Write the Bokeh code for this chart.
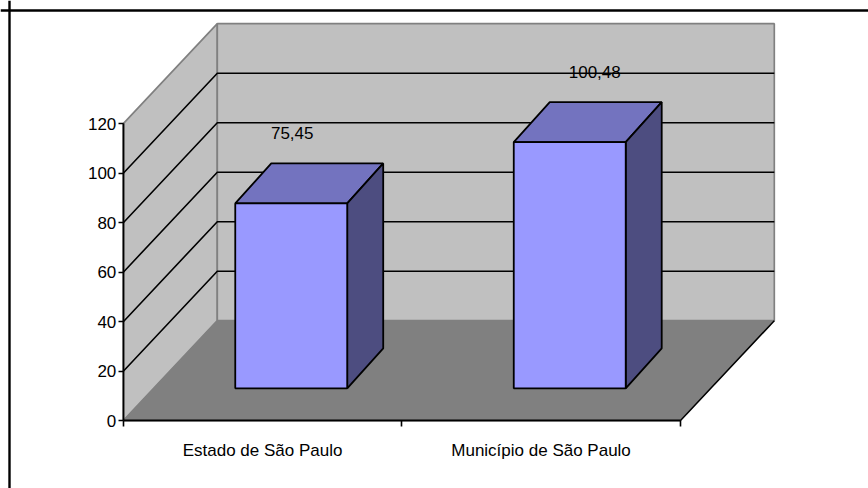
from bokeh.core.properties import value
from bokeh.embed import file_html
from bokeh.models import FixedTicker, LinearAxis, Range1d, Span
from bokeh.plotting import figure
from bokeh.resources import INLINE

categories = ["Estado de São Paulo", "Município de São Paulo"]
values = [75.45, 100.48]
value_labels = ["75,45", "100,48"]
y_ticks = [0, 20, 40, 60, 80, 100, 120]
grid_levels = [20, 40, 60, 80, 100]

WIDTH, HEIGHT = 868, 488
FONT = "Liberation Sans"
FONT_SIZE = "17px"

# Pixel placement of the chart's origin and its scales
ORIGIN_X, ORIGIN_Y = 122.8, 420.2
PX_PER_CATEGORY = 278.5
PX_PER_UNIT = 2.475

# Oblique projection: how far the back wall sits from the front plane, in data units
WALL_DX = 94 / PX_PER_CATEGORY
WALL_DY = 100 / PX_PER_UNIT
TOP = 120

# Bar box geometry in data units
BAR_WIDTH = 0.402
BAR_SHIFT_X = 0.103
BAR_SHIFT_Y = 13.1
BAR_DEPTH_X = 36 / PX_PER_CATEGORY
BAR_DEPTH_Y = 40 / PX_PER_UNIT
BAR_SCALE = 0.99

# Label placement relative to the bar's top back edge
LABEL_X_OFFSET = [1, 25]
LABEL_Y_OFFSET = -30

p = figure(
    width=WIDTH,
    height=HEIGHT,
    output_backend="svg",
    toolbar_location=None,
    x_axis_type=None,
    y_axis_type=None,
    min_border=0,
    x_range=Range1d(-ORIGIN_X / PX_PER_CATEGORY, (WIDTH - ORIGIN_X) / PX_PER_CATEGORY),
    y_range=Range1d(-(HEIGHT - ORIGIN_Y) / PX_PER_UNIT, ORIGIN_Y / PX_PER_UNIT),
)
p.outline_line_color = None
p.grid.visible = False
p.background_fill_color = "white"
p.border_fill_color = "white"

n = len(categories)

# Side wall, back wall and floor
p.patch(
    [0, WALL_DX, WALL_DX, 0],
    [0, WALL_DY, TOP + WALL_DY, TOP],
    fill_color="#c0c0c0", line_color="#808080", line_width=1.7,
)
p.patch(
    [WALL_DX, n + WALL_DX, n + WALL_DX, WALL_DX],
    [WALL_DY, WALL_DY, TOP + WALL_DY, TOP + WALL_DY],
    fill_color="#c0c0c0", line_color="#808080", line_width=1.7,
)
p.patch(
    [0, n, n + WALL_DX, WALL_DX],
    [0, 0, WALL_DY, WALL_DY],
    fill_color="#808080", line_color="#808080", line_width=1,
)
p.line([n, n + WALL_DX], [0, WALL_DY], line_color="black", line_width=1.5)

# Gridlines run across the side wall and then along the back wall
for level in grid_levels:
    p.line(
        [0, WALL_DX, n + WALL_DX],
        [level, level + WALL_DY, level + WALL_DY],
        line_color="black", line_width=1.6,
    )

# Each bar is a box of three faces
for i, v in enumerate(values):
    left = i + 0.5 - BAR_WIDTH / 2 + BAR_SHIFT_X
    right = left + BAR_WIDTH
    base = BAR_SHIFT_Y
    top = base + v * BAR_SCALE
    p.patch(
        [left, right, right + BAR_DEPTH_X, left + BAR_DEPTH_X],
        [top, top, top + BAR_DEPTH_Y, top + BAR_DEPTH_Y],
        fill_color="#7373bf", line_color="black", line_width=1.8,
    )
    p.patch(
        [right, right + BAR_DEPTH_X, right + BAR_DEPTH_X, right],
        [base, base + BAR_DEPTH_Y, top + BAR_DEPTH_Y, top],
        fill_color="#4d4d80", line_color="black", line_width=1.8,
    )
    p.patch(
        [left, right, right, left],
        [base, base, top, top],
        fill_color="#9999ff", line_color="black", line_width=1.8,
    )
    p.text(
        [i + 0.5 + BAR_SHIFT_X],
        [top + BAR_DEPTH_Y],
        text=[value_labels[i]],
        x_offset=LABEL_X_OFFSET[i],
        y_offset=LABEL_Y_OFFSET,
        text_align="center",
        text_baseline="middle",
        text_font=value(FONT),
        text_font_size=FONT_SIZE,
        text_color="black",
    )

# Value axis standing on the front left corner
y_axis = LinearAxis(
    fixed_location=0,
    bounds=(0, TOP),
    ticker=FixedTicker(ticks=y_ticks),
    axis_line_color="black",
    axis_line_width=1.8,
    major_tick_line_color="black",
    major_tick_line_width=1.6,
    major_tick_in=0,
    major_tick_out=5,
    minor_tick_line_color=None,
    major_label_standoff=2,
    major_label_text_font=FONT,
    major_label_text_font_size=FONT_SIZE,
    major_label_text_color="black",
)
p.add_layout(y_axis, "left")

# Category axis: labels sit between the boundary ticks
x_axis = LinearAxis(
    fixed_location=0,
    bounds=(0, n),
    ticker=FixedTicker(ticks=[i + 0.5 for i in range(n)], minor_ticks=list(range(n + 1))),
    major_label_overrides={i + 0.5: c for i, c in enumerate(categories)},
    axis_line_color="black",
    axis_line_width=1.8,
    major_tick_line_color=None,
    minor_tick_line_color="black",
    minor_tick_line_width=1.6,
    minor_tick_in=0,
    minor_tick_out=6,
    major_label_standoff=14,
    major_label_text_font=FONT,
    major_label_text_font_size=FONT_SIZE,
    major_label_text_color="black",
)
p.add_layout(x_axis, "below")

# Chart area border, visible along the top and left edges
p.add_layout(Span(location=9, dimension="height", location_units="screen",
                  line_color="black", line_width=2.4))
p.add_layout(Span(location=HEIGHT - 10, dimension="width", location_units="screen",
                  line_color="black", line_width=2.4))

open("out.html", "w").write(file_html(p, INLINE))
